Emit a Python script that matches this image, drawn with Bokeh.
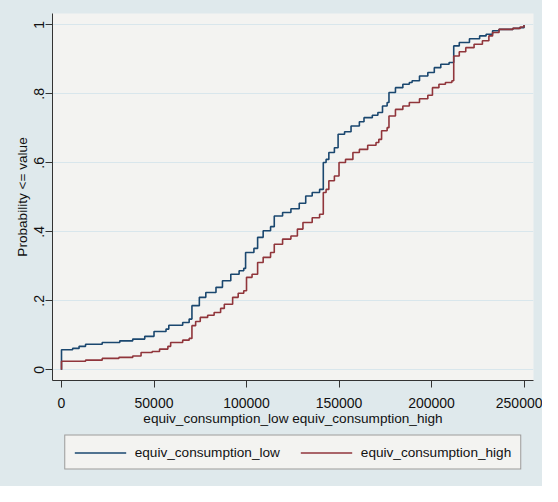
from bokeh.plotting import figure
from bokeh.models import Legend, LegendItem, FixedTicker, BasicTickFormatter, ColumnDataSource
from bokeh.layouts import column
from bokeh.embed import file_html
from bokeh.resources import INLINE

# ---- data ----
low_x = [0, 0, 6000, 9500, 13000, 22000, 31500, 38500, 45000, 50000, 56500, 58000,
         65500, 69000, 70500, 74500, 78000, 83500, 87000, 91500, 96000, 98500, 99500,
         104000, 106000, 109000, 113000, 115000, 119500, 124000, 128500, 132000,
         135500, 139500, 141500, 143000, 144500, 147500, 149500, 153000, 156500,
         161000, 163500, 168000, 171000, 173500, 176000, 177000, 180500, 184500,
         188000, 189500, 193500, 198000, 201500, 205000, 209500, 212000, 215000,
         220500, 226000, 229500, 233000, 236500, 244000, 247500, 250000]
low_p = [0.0, 0.058, 0.062, 0.068, 0.074, 0.079, 0.084, 0.089, 0.097, 0.111, 0.118, 0.129,
         0.137, 0.147, 0.186, 0.21, 0.224, 0.239, 0.258, 0.277, 0.287, 0.294, 0.34,
         0.352, 0.384, 0.403, 0.415, 0.446, 0.456, 0.467, 0.483, 0.504,
         0.514, 0.523, 0.601, 0.61, 0.63, 0.644, 0.683, 0.69, 0.707,
         0.719, 0.731, 0.738, 0.746, 0.765, 0.775, 0.804, 0.818, 0.828,
         0.833, 0.838, 0.852, 0.862, 0.876, 0.886, 0.891, 0.939, 0.949,
         0.96, 0.968, 0.973, 0.983, 0.987, 0.99, 0.992, 1.0]

high_x = [0, 0, 13000, 22000, 31000, 38500, 43000, 49000, 53000, 57500, 59000, 65500,
          69000, 70500, 72500, 75000, 79000, 82500, 86000, 88000, 92500, 95500, 98500,
          100000, 103000, 106000, 109000, 113000, 115000, 119500, 124000, 127500,
          130500, 135500, 139500, 141500, 143000, 144500, 147500, 150000, 153500,
          157500, 161000, 165500, 170000, 171500, 173000, 176000, 177000, 180500,
          184500, 188000, 193500, 198000, 200500, 204000, 207500, 211000, 212000,
          215000, 218500, 223000, 227500, 231000, 233000, 236500, 244000, 248000, 250000]
high_p = [0.0, 0.025, 0.028, 0.033, 0.036, 0.04, 0.05, 0.053, 0.06, 0.068, 0.079, 0.086,
          0.091, 0.128, 0.14, 0.152, 0.158, 0.166, 0.178, 0.19, 0.21, 0.222, 0.229,
          0.268, 0.277, 0.311, 0.326, 0.34, 0.364, 0.379, 0.388, 0.408,
          0.427, 0.441, 0.451, 0.514, 0.523, 0.548, 0.562, 0.601, 0.61,
          0.63, 0.639, 0.651, 0.659, 0.668, 0.693, 0.702, 0.736, 0.755,
          0.765, 0.775, 0.786, 0.796, 0.818, 0.828, 0.833, 0.838, 0.91,
          0.922, 0.934, 0.944, 0.954, 0.968, 0.978, 0.987, 0.99, 0.994, 1.0]

series_names = ["equiv_consumption_low", "equiv_consumption_high"]
x_ticks = [0, 50000, 100000, 150000, 200000, 250000]
y_ticks = [0, 0.2, 0.4, 0.6, 0.8, 1]
y_tick_labels = ["0", ".2", ".4", ".6", ".8", "1"]
x_axis_title = "equiv_consumption_low equiv_consumption_high"
y_axis_title = "Probability <= value"

# ---- styling ----
FONT = "Liberation Sans"
OUTER = "#dfe9ec"
INNER = "#f3f3f1"
BLUE = "#1a476f"
RED = "#90353b"
TXT = "#111111"

W = 542
p = figure(width=W, height=430, x_range=(-4865, 255116), y_range=(-0.031, 1.033),
           output_backend="svg", toolbar_location=None,
           min_border_left=52, min_border_right=9, min_border_top=13, min_border_bottom=50)
p.background_fill_color = INNER
p.border_fill_color = OUTER
p.outline_line_color = None

src_low = ColumnDataSource(dict(x=low_x, y=low_p))
src_high = ColumnDataSource(dict(x=high_x, y=high_p))
p.step("x", "y", source=src_low, mode="after", line_color=BLUE, line_width=1.6)
p.step("x", "y", source=src_high, mode="after", line_color=RED, line_width=1.6)

# axes
p.xaxis.ticker = FixedTicker(ticks=x_ticks)
p.xaxis.formatter = BasicTickFormatter(use_scientific=False)
p.yaxis.ticker = FixedTicker(ticks=y_ticks)
p.yaxis.major_label_overrides = {t: l for t, l in zip(y_ticks, y_tick_labels)}
p.yaxis.major_label_orientation = "vertical"
p.xaxis.axis_label = x_axis_title
p.yaxis.axis_label = y_axis_title
for ax in (p.xaxis, p.yaxis):
    ax.axis_line_color = "#333333"
    ax.major_tick_line_color = "#333333"
    ax.minor_tick_line_color = None
    ax.major_tick_in = 0
    ax.major_tick_out = 7
    ax.major_label_text_font = FONT
    ax.major_label_text_font_size = "14px"
    ax.major_label_text_color = TXT
    ax.axis_label_text_font = FONT
    ax.axis_label_text_font_size = "13.6px"
    ax.axis_label_text_font_style = "normal"
    ax.axis_label_text_color = TXT
p.xaxis.major_label_standoff = 10
p.xaxis.axis_label_standoff = 0
p.yaxis.major_label_standoff = 1
p.yaxis.axis_label_standoff = 2

p.xgrid.grid_line_color = None
p.ygrid.grid_line_color = "#d8e6ec"
p.ygrid.grid_line_width = 1

# ---- legend strip below the plot (same data sources; ranges keep the lines off-screen) ----
lg = figure(width=W, height=56, x_range=(-2e6, -1e6), y_range=(-2, -1),
            output_backend="svg", toolbar_location=None,
            x_axis_type=None, y_axis_type=None,
            min_border_left=42, min_border_right=0, min_border_top=0, min_border_bottom=12)
lg.background_fill_color = OUTER
lg.border_fill_color = OUTER
lg.outline_line_color = None
lg.xgrid.visible = False
lg.ygrid.visible = False
l_low = lg.step("x", "y", source=src_low, mode="after", line_color=BLUE, line_width=1.6)
l_high = lg.step("x", "y", source=src_high, mode="after", line_color=RED, line_width=1.6)

legend = Legend(items=[LegendItem(label=series_names[0], renderers=[l_low]),
                       LegendItem(label=series_names[1], renderers=[l_high])],
                orientation="horizontal", location="center")
legend.label_text_font = FONT
legend.label_text_font_size = "13.6px"
legend.label_text_color = TXT
legend.glyph_width = 52
legend.glyph_height = 14
legend.label_height = 14
legend.label_standoff = 9
legend.spacing = 20
legend.padding = 9
legend.margin = 0
legend.border_line_color = "#444444"
legend.border_line_width = 1
legend.background_fill_color = INNER
legend.background_fill_alpha = 1
lg.add_layout(legend)

layout = column(p, lg, spacing=0, styles={"background-color": OUTER})
open("out.html", "w").write(file_html(layout, INLINE))
